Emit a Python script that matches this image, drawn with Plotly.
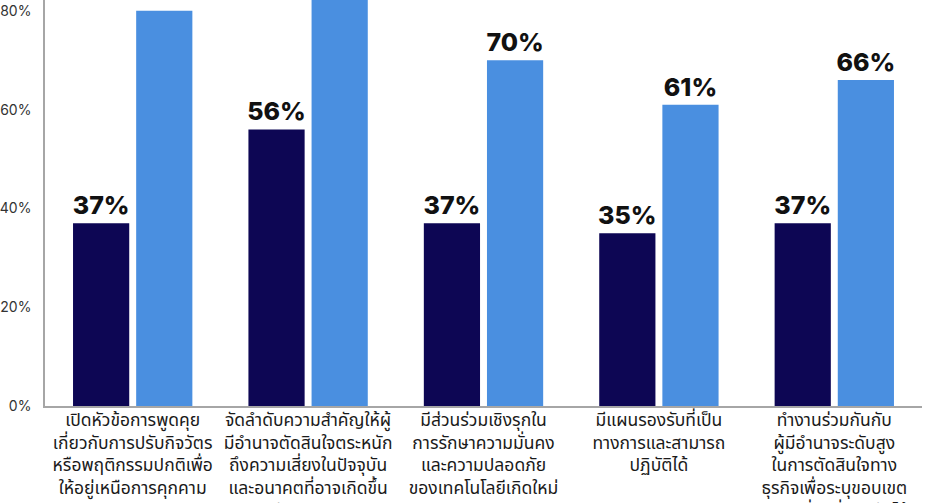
import plotly.graph_objects as go

categories = [
    "เปิดหัวข้อการพูดคุย<br>เกี่ยวกับการปรับกิจวัตร<br>หรือพฤติกรรมปกติเพื่อ<br>ให้อยู่เหนือการคุกคาม",
    "จัดลำดับความสำคัญให้ผู้<br>มีอำนาจตัดสินใจตระหนัก<br>ถึงความเสี่ยงในปัจจุบัน<br>และอนาคตที่อาจเกิดขึ้น<br>กับองค์กร",
    "มีส่วนร่วมเชิงรุกใน<br>การรักษาความมั่นคง<br>และความปลอดภัย<br>ของเทคโนโลยีเกิดใหม่",
    "มีแผนรองรับที่เป็น<br>ทางการและสามารถ<br>ปฏิบัติได้",
    "ทำงานร่วมกันกับ<br>ผู้มีอำนาจระดับสูง<br>ในการตัดสินใจทาง<br>ธุรกิจเพื่อระบุขอบเขต<br>ความเสี่ยงที่ยอมรับได้",
]
series_a = [37, 56, 37, 35, 37]
series_b = [80, 85, 70, 61, 66]
tick_vals = [0, 20, 40, 60, 80]
tick_text = ["0%", "20%", "40%", "60%", "80%"]

y_top = 82.2  # visible top of the cropped chart

navy = "#0d0654"
blue = "#4a8fe0"
label_font = dict(family="Inter, Lato, sans-serif", size=25, color="#111111", weight=800)


def labels(values):
    # labels of bars reaching the cropped top edge fall outside the picture
    return [f"{v}%" if v < y_top - 5 else "" for v in values]


fig = go.Figure()
fig.add_trace(go.Bar(x=categories, y=series_a, marker_color=navy, marker_line_width=0,
                     text=labels(series_a), textposition="outside", constraintext="none",
                     textfont=label_font, showlegend=False, hoverinfo="skip"))
fig.add_trace(go.Bar(x=categories, y=series_b, marker_color=blue, marker_line_width=0,
                     text=labels(series_b), textposition="outside", constraintext="none",
                     textfont=label_font, showlegend=False, hoverinfo="skip"))

fig.update_layout(
    width=940, height=503,
    margin=dict(l=45, r=18, t=0, b=97, autoexpand=False),
    paper_bgcolor="white", plot_bgcolor="white",
    barmode="group", bargap=0.28, bargroupgap=0.11,
    font=dict(family="Noto Sans Thai, Noto Sans, sans-serif"),
)
fig.update_xaxes(
    showline=True, linecolor="#a6a6a6", linewidth=1.5, showgrid=False,
    ticks="", ticklabelstandoff=-3,
    tickfont=dict(size=17.5, color="#1a1a1a"), automargin=False, tickangle=0,
)
fig.update_yaxes(
    range=[0, y_top], showline=True, linecolor="#a6a6a6", linewidth=1.5, showgrid=False,
    zeroline=False, tickvals=tick_vals, ticktext=tick_text,
    ticks="outside", ticklen=9, tickcolor="rgba(0,0,0,0)",
    tickfont=dict(family="Inter, Lato, sans-serif", size=14, color="#333333"), automargin=False,
)

fig.write_html(
    "out.html",
    config={"displayModeBar": False},
    post_script="document.body.style.margin='0';document.body.style.overflow='hidden';",
)
